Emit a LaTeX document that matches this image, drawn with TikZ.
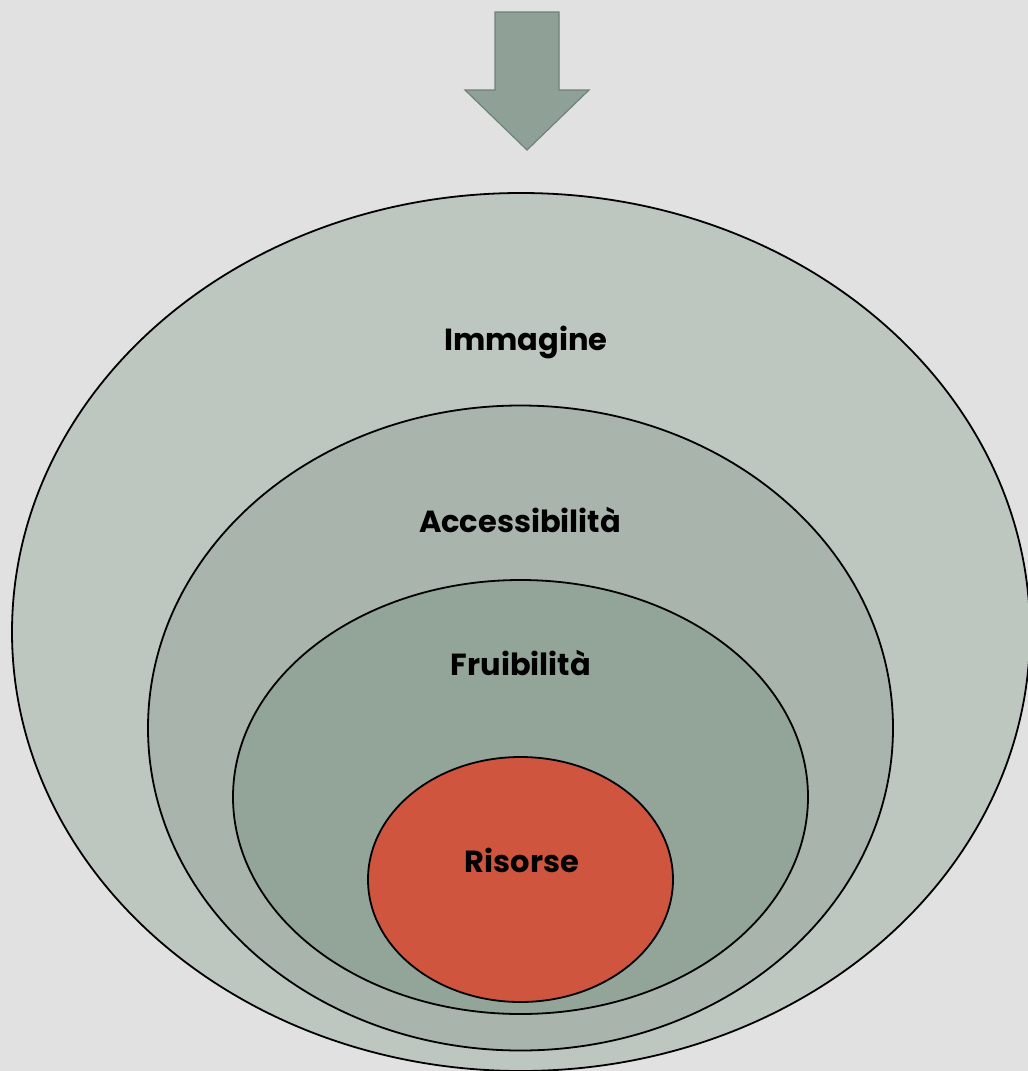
\documentclass[tikz,border=0pt]{standalone}
\usepackage{fontspec}
\setmainfont{Poppins}[UprightFont=*-Regular,BoldFont=*-Bold]
\usetikzlibrary{shapes.geometric}
\definecolor{bgcol}{HTML}{E1E1E1}
\definecolor{ringA}{HTML}{BEC6C0}
\definecolor{ringB}{HTML}{A9B4AD}
\definecolor{ringC}{HTML}{93A598}
\definecolor{core}{HTML}{CF553F}
\definecolor{arrowfill}{HTML}{8FA196}
\definecolor{arrowedge}{HTML}{6F8276}
\begin{document}
\begin{tikzpicture}[x=1pt,y=-1pt,
  ring/.style={draw=black,line width=1.8pt,shape=ellipse,inner sep=0pt},
  lbl/.style={font=\fontsize{30.5}{34}\selectfont\bfseries,text=black,inner sep=0pt}]
  \useasboundingbox (0,0) rectangle (1028,1071);
  \clip (0,0) rectangle (1028,1071);
  \fill[bgcol] (0,0) rectangle (1028,1071);
  % down arrow
  \draw[fill=arrowfill,draw=arrowedge,line width=1.2pt,line join=miter]
    (495,12) -- (559,12) -- (559,90) -- (589,90) -- (527,150) -- (465,90) -- (495,90) -- cycle;
  % nested ellipses
  \node[ring,fill=ringA,minimum width=1018pt,minimum height=878pt] (imm) at (521,632) {};
  \node[ring,fill=ringB,minimum width=745pt,minimum height=645pt] (acc) at (520.5,728) {};
  \node[ring,fill=ringC,minimum width=575pt,minimum height=434pt] (fru) at (520.5,797) {};
  \node[ring,fill=core,minimum width=305pt,minimum height=245pt] (ris) at (520.5,879.5) {};
  % labels
  \node[lbl] (t1) at (526,342) {Immagine};
  \node[lbl] (t2) at (520,520) {Accessibilità};
  \node[lbl] (t3) at (521,663) {Fruibilità};
  \node[lbl] (t4) at (522,860) {Risorse};
\end{tikzpicture}
\end{document}
